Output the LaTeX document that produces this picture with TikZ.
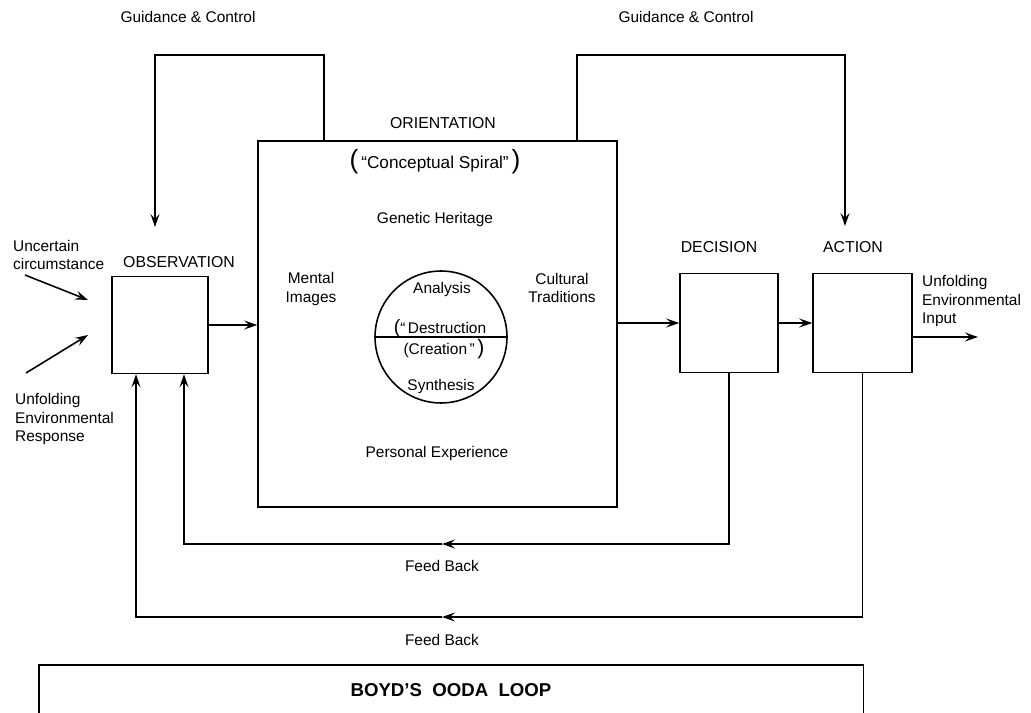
\documentclass[tikz,border=0pt]{standalone}
\usepackage{fontspec}
\setmainfont{Liberation Sans}
\usetikzlibrary{arrows.meta}

\begin{document}
\begin{tikzpicture}[x=0.02cm, y=-0.02cm,
  >={Stealth[length=2.6mm, width=1.8mm, inset=1mm]},
  blk/.style={draw, line width=0.9pt, inner sep=0pt},
  wire/.style={line width=0.9pt},
  lab/.style={font=\fontsize{8.8}{10.4}\selectfont, align=center, inner sep=1pt},
  headlab/.style={font=\fontsize{9}{11}\selectfont, inner sep=1pt},
  big/.style={font=\fontsize{10.6}{12}\selectfont\bfseries, inner sep=1pt}]
\useasboundingbox (0,0) rectangle (1031,713);
\node[blk, minimum width=1.92cm, minimum height=1.94cm] (obs) at (160,325) {};
\node[blk, minimum width=7.18cm, minimum height=7.32cm] (ori) at (437.5,324) {};
\node[blk, minimum width=1.96cm, minimum height=1.98cm] (dec) at (729,323) {};
\node[blk, minimum width=1.98cm, minimum height=1.98cm] (act) at (862.5,323) {};
\node[blk, circle, minimum size=2.64cm] (cir) at (441,337) {};
\draw[wire] (cir.west) -- (cir.east);
\node[blk, anchor=north west, minimum width=16.5cm, minimum height=1.2cm] (ttl) at (38,664) {};
\node[big] (ttlt) at (451,690) {BOYD'S\ \ OODA\ \ LOOP};
\node[headlab] (obsl) at (179,262) {OBSERVATION};
\node[headlab] (decl) at (719,247) {DECISION};
\node[headlab] (actl) at (853,247) {ACTION};
\node[headlab] (oril) at (443,123) {ORIENTATION};
\node[lab, font=\fontsize{9.8}{11}\selectfont] (spi) at (435,162) {{\fontsize{15}{15}\selectfont(}\,``Conceptual Spiral''\,{\fontsize{15}{15}\selectfont)}};
\node[lab] (gen) at (435,220) {Genetic Heritage};
\node[lab] (men) at (311,289) {Mental\\Images};
\node[lab] (cul) at (562,288) {Cultural\\Traditions};
\node[lab] (per) at (437,453) {Personal Experience};
\node[lab] (ana) at (442,290) {Analysis};
\node[lab] (des) at (440,328) {{\fontsize{11}{11}\selectfont(}``\,Destruction};
\node[lab] (cre) at (444,349) {(Creation\,''\,{\fontsize{12}{12}\selectfont)}};
\node[lab] (syn) at (441,386) {Synthesis};
\node[lab] (gcl) at (188,17) {Guidance \& Control};
\node[lab] (gcr) at (686,17) {Guidance \& Control};
\node[lab, align=left, anchor=west] (unc) at (11,255) {Uncertain\\circumstance};
\node[lab, align=left, anchor=west] (res) at (13,419) {Unfolding\\Environmental\\Response};
\node[lab, align=left, anchor=west] (inp) at (920,301) {Unfolding\\Environmental\\Input};
\node[lab] (fbl1) at (442,566) {Feed Back};
\node[lab] (fbl2) at (442,640) {Feed Back};
\coordinate (gltop) at (155,55);
\coordinate (gl) at (155,227);
\coordinate (grtop) at (845,55);
\coordinate (gr) at (845,226);
\coordinate (u1) at (25,275);
\coordinate (u2) at (88,300);
\coordinate (r1) at (26,373);
\coordinate (r2) at (88,335);
\coordinate (out) at (978,337);
\coordinate (fb1) at (442,544);
\coordinate (fb2) at (442,617);
\draw[wire, ->] ([xshift=1.34cm]ori.north west) |- (gltop) -- (gl);
\draw[wire, ->] ([xshift=-0.82cm]ori.north east) |- (grtop) -- (gr);
\draw[wire, ->] (u1) -- (u2);
\draw[wire, ->] (r1) -- (r2);
\draw[wire, ->] (obs.east) -- (obs.east -| ori.west);
\draw[wire, ->] (ori.east |- dec.west) -- (dec.west);
\draw[wire, ->] (dec.east) -- (act.west);
\draw[wire, ->] (act.east |- out) -- (out);
\draw[wire, ->] (dec.south) |- (fb1);
\draw[wire, ->] (fb1) -| ([xshift=0.48cm]obs.south);
\draw[wire, ->] (act.south) |- (fb2);
\draw[wire, ->] (fb2) -| ([xshift=-0.48cm]obs.south);
\end{tikzpicture}
\end{document}
